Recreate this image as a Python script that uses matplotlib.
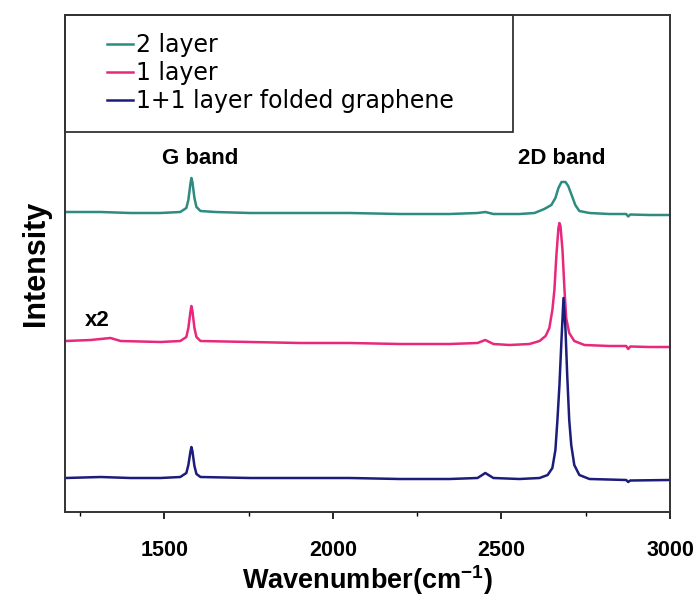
import matplotlib
matplotlib.use("Agg")
import matplotlib.pyplot as plt
from matplotlib.patches import Rectangle
from matplotlib.ticker import MultipleLocator

plt.rcParams["mathtext.fontset"] = "custom"
plt.rcParams["mathtext.rm"] = "Liberation Sans"
plt.rcParams["mathtext.bf"] = "Liberation Sans:bold"

# ---- data ----
wn_2layer = [1207, 1311, 1399, 1488, 1547, 1565, 1571, 1577, 1580, 1583, 1589, 1595, 1607,
             1651, 1754, 1902, 2050, 2198, 2346, 2429, 2452, 2476, 2553, 2598, 2627, 2648,
             2660, 2669, 2678, 2690, 2698, 2707, 2719, 2731, 2761, 2820, 2870, 2876, 2882,
             2938, 3000]
int_2layer = [600, 600, 598, 598, 600, 608, 624, 656, 668, 660, 628, 610, 602,
              600, 598, 598, 598, 596, 596, 598, 600, 596, 596, 598, 606, 614,
              628, 648, 660, 660, 652, 636, 614, 602, 598, 596, 596, 591, 595,
              594, 594]

wn_1layer = [1207, 1281, 1340, 1370, 1488, 1547, 1565, 1571, 1577, 1580, 1583, 1589, 1595,
             1607, 1754, 1902, 2050, 2198, 2346, 2429, 2452, 2476, 2524, 2583, 2613, 2631,
             2642, 2651, 2657, 2663, 2669, 2672, 2675, 2681, 2687, 2692, 2701, 2716, 2746,
             2820, 2870, 2876, 2882, 2938, 3000]
int_1layer = [342, 344, 348, 342, 340, 342, 350, 368, 400, 412, 402, 368, 350,
              342, 340, 338, 338, 336, 336, 338, 344, 336, 334, 336, 342, 352,
              368, 404, 444, 514, 568, 578, 572, 524, 444, 388, 358, 342, 334,
              332, 332, 326, 331, 330, 330]

wn_folded = [1207, 1311, 1399, 1488, 1547, 1565, 1571, 1577, 1580, 1583, 1589, 1595, 1607,
             1754, 1902, 2050, 2198, 2346, 2429, 2452, 2476, 2553, 2613, 2637, 2651, 2660,
             2666, 2672, 2678, 2684, 2690, 2695, 2701, 2707, 2716, 2731, 2761, 2870, 2876,
             2882, 3000]
int_folded = [68, 70, 68, 68, 70, 78, 94, 120, 130, 122, 92, 76, 70,
              68, 68, 68, 66, 66, 68, 78, 68, 66, 68, 74, 88, 124,
              184, 254, 344, 428, 364, 274, 184, 134, 94, 74, 66, 64, 60,
              63, 64]

labels = ["2 layer", "1 layer", "1+1 layer folded graphene"]
colors = ["#2E8B80", "#E8287C", "#1C1C7A"]
xticks = [1500, 2000, 2500, 3000]

# ---- figure ----
fig = plt.figure(figsize=(6.97, 5.98), dpi=100)
ax = fig.add_axes([65 / 697, 1 - 512 / 598, 605 / 697, 497 / 598])

series = [(wn_2layer, int_2layer), (wn_1layer, int_1layer), (wn_folded, int_folded)]
handles = []
for (x, y), lab, c in zip(series, labels, colors):
    h, = ax.plot(x, y, color=c, lw=1.8, label=lab, solid_joinstyle="round")
    handles.append(h)

ax.set_xlim(1205, 3000)
ax.set_ylim(0, 994)
ax.set_xticks(xticks)
ax.xaxis.set_minor_locator(MultipleLocator(250))
ax.set_yticks([])
ax.tick_params(axis="x", which="major", direction="out", length=5, width=1.2, pad=15)
ax.tick_params(axis="x", which="minor", direction="out", length=3, width=1.0)
for lbl in ax.get_xticklabels():
    lbl.set_fontfamily("Liberation Sans")
    lbl.set_fontweight("bold")
    lbl.set_fontsize(15.5)
for sp in ax.spines.values():
    sp.set_linewidth(1.4)
    sp.set_color("#333333")

ax.set_xlabel("Wavenumber(cm$^{\\mathbf{-1}}$)", fontsize=19.5, fontweight="bold",
              family="Liberation Sans", labelpad=2)
ax.set_ylabel("Intensity", fontsize=22, fontweight="bold", family="Liberation Sans",
              labelpad=10)

# legend box
ax.add_patch(Rectangle((0, 1 - 117 / 497), 448 / 605, 117 / 497, transform=ax.transAxes,
                       fill=False, edgecolor="#222222", lw=1.2, clip_on=False))
leg = ax.legend(handles=handles, loc="upper left", bbox_to_anchor=(0.069, 0.964),
                frameon=False, prop={"family": "DejaVu Sans", "size": 17},
                handlelength=1.12, handletextpad=0.1, labelspacing=0.18, borderpad=0,
                borderaxespad=0)

ax.text(1605, 707, "G band", fontsize=16, fontweight="bold", family="Liberation Sans",
        ha="center", va="center")
ax.text(2680, 707, "2D band", fontsize=16, fontweight="bold", family="Liberation Sans",
        ha="center", va="center")
ax.text(1300, 382, "x2", fontsize=16, fontweight="bold", family="Liberation Sans",
        ha="center", va="center")

fig.savefig("out.png", dpi=100)
